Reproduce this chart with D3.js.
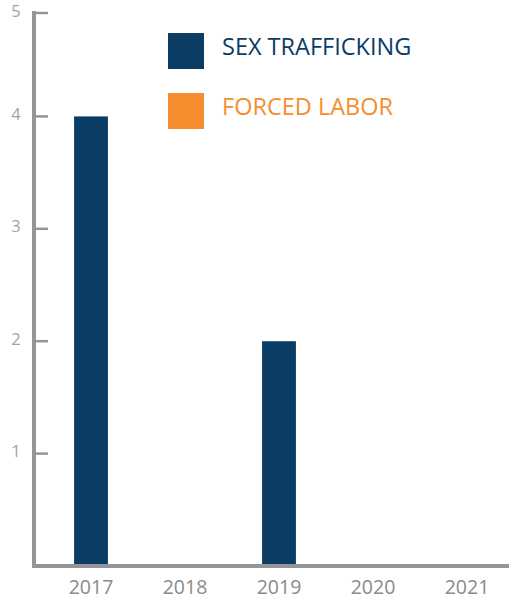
<!DOCTYPE html>
<html>
<head>
<meta charset="utf-8">
<script src="https://cdn.jsdelivr.net/npm/d3@7"></script>
<style>
  body { margin: 0; background: #fff; }
  text { font-family: "Open Sans", sans-serif; }
</style>
</head>
<body>
<div id="chart"></div>
<script>
// data
var years = ["2017", "2018", "2019", "2020", "2021"];
var sexTrafficking = [4, 0, 2, 0, 0];
var forcedLabor = [0, 0, 0, 0, 0];
var yTicks = [1, 2, 3, 4, 5];
var seriesNames = ["SEX TRAFFICKING", "FORCED LABOR"];
var seriesColors = ["#0b3c64", "#f68d2e"];

var svgWidth = 509, svgHeight = 600;
var axisColor = "#939598";

var svg = d3.select("#chart")
  .append("svg")
  .attr("width", svgWidth)
  .attr("height", svgHeight);

// scales
var x = d3.scaleBand()
  .domain(years)
  .range([44, 514])
  .paddingInner(0.64)
  .paddingOuter(0.32);

// top of axis sits a little below the 5 step, so clamp
var y = d3.scaleLinear()
  .domain([0, 4.92])
  .range([566, 13])
  .clamp(true);

// bars (stacked so both series share one slot)
var rows = years.map((yr, i) => ({ year: yr, st: sexTrafficking[i], fl: forcedLabor[i] }));

svg.selectAll("rect.st")
  .data(rows)
  .enter()
  .append("rect")
  .attr("class", "st")
  .attr("x", d => x(d.year))
  .attr("width", x.bandwidth())
  .attr("y", d => y(d.st))
  .attr("height", d => y(0) - y(d.st))
  .attr("fill", seriesColors[0]);

svg.selectAll("rect.fl")
  .data(rows)
  .enter()
  .append("rect")
  .attr("class", "fl")
  .attr("x", d => x(d.year))
  .attr("width", x.bandwidth())
  .attr("y", d => y(d.st + d.fl))
  .attr("height", d => y(d.st) - y(d.st + d.fl))
  .attr("fill", seriesColors[1]);

// y ticks + labels
var yg = svg.append("g");
yg.selectAll("line")
  .data(yTicks)
  .enter()
  .append("line")
  .attr("x1", 34).attr("x2", 48)
  .attr("y1", d => y(d)).attr("y2", d => y(d))
  .attr("stroke", axisColor)
  .attr("stroke-width", 2.5);

yg.selectAll("text")
  .data(yTicks)
  .enter()
  .append("text")
  .attr("x", 16)
  .attr("y", d => y(d) + 3.5)
  .attr("text-anchor", "middle")
  .attr("font-size", "16.5px")
  .attr("fill", "#a3a3a3")
  .text(d => d);

// axis lines
svg.append("line")
  .attr("x1", 34).attr("x2", 34)
  .attr("y1", y(5) - 2).attr("y2", y(0) + 2)
  .attr("stroke", axisColor)
  .attr("stroke-width", 4);

svg.append("line")
  .attr("x1", 32).attr("x2", svgWidth)
  .attr("y1", y(0)).attr("y2", y(0))
  .attr("stroke", axisColor)
  .attr("stroke-width", 4);

// x labels
svg.selectAll("text.xl")
  .data(years)
  .enter()
  .append("text")
  .attr("class", "xl")
  .attr("x", d => x(d) + x.bandwidth() / 2)
  .attr("y", 594)
  .attr("text-anchor", "middle")
  .attr("font-size", "19.5px")
  .attr("fill", "#8a8a8a")
  .text(d => d);

// legend
var legend = svg.selectAll("g.legend")
  .data(seriesNames)
  .enter()
  .append("g")
  .attr("class", "legend")
  .attr("transform", (d, i) => `translate(168, ${33 + i * 60})`);

legend.append("rect")
  .attr("width", 36)
  .attr("height", 36)
  .attr("fill", (d, i) => seriesColors[i]);

legend.append("text")
  .attr("x", 54)
  .attr("y", 22)
  .attr("font-size", "23.5px")
  .attr("fill", (d, i) => seriesColors[i])
  .text(d => d);
</script>
</body>
</html>
